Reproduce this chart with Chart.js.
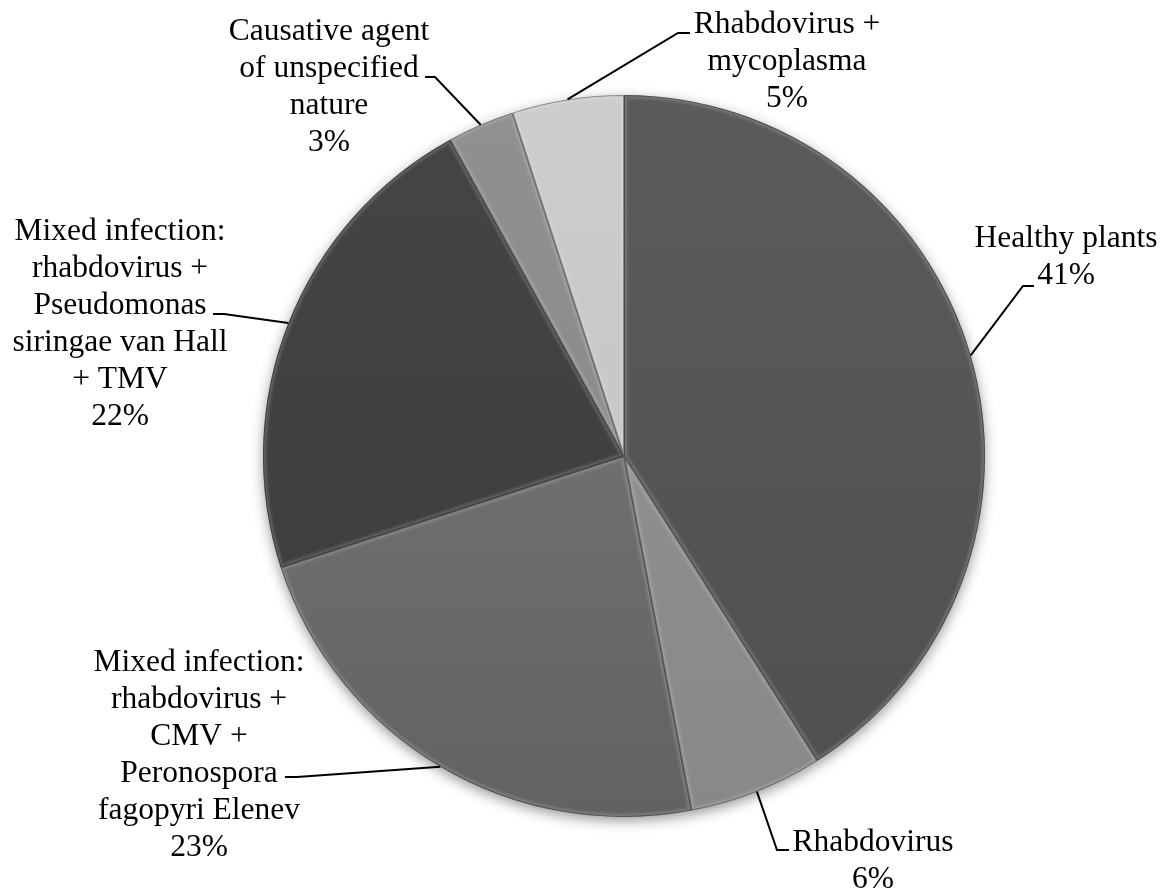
<!DOCTYPE html>
<html>
<head>
<meta charset="utf-8">
<script src="https://cdn.jsdelivr.net/npm/chart.js@4/dist/chart.umd.min.js"></script>
<style>
  html, body { margin: 0; padding: 0; background: #ffffff; }
  #wrap { position: relative; width: 1169px; height: 892px; }
</style>
</head>
<body>
<div id="wrap"><canvas id="c"></canvas></div>
<script>
// ---- data ----
const categories = [
  ["Healthy plants"],
  ["Rhabdovirus"],
  ["Mixed infection:", "rhabdovirus +", "CMV +", "Peronospora", "fagopyri Elenev"],
  ["Mixed infection:", "rhabdovirus +", "Pseudomonas", "siringae van Hall", "+ TMV"],
  ["Causative agent", "of unspecified", "nature"],
  ["Rhabdovirus +", "mycoplasma"]
];
const values = [41, 6, 23, 22, 3, 5];

// ---- styles / layout (not data) ----
const sliceColors = [
  ["#5b5b5b", "#4f4f4f"],
  ["#959595", "#888888"],
  ["#7c7c7c", "#626262"],
  ["#454545", "#3c3c3c"],
  ["#909090", "#888888"],
  ["#cdcdcd", "#c0c0c0"]
];
// label block: center x, first-line center y; leader: elbow point and end point
const labelLayout = [
  { cx: 1066, y: 239, elbow: [1023, 286], end: [1034, 286] },
  { cx: 873,  y: 843, elbow: [777, 850],  end: [789, 850] },
  { cx: 199,  y: 663, elbow: [297, 777],  end: [285, 777] },
  { cx: 120,  y: 232, elbow: [224, 314],  end: [213, 314] },
  { cx: 329,  y: 32,  elbow: [435, 77],   end: [425, 77] },
  { cx: 787,  y: 25,  elbow: [678, 33],   end: [690, 33] }
];
const lineH = 37;
const fontSpec = "31.5px 'Liberation Serif', 'Times New Roman', serif";

function bg(ctx) {
  const chart = ctx.chart;
  const area = chart.chartArea;
  const c = sliceColors[ctx.dataIndex];
  if (!area) return c[0];
  const g = chart.ctx.createLinearGradient(0, area.top, 0, area.bottom);
  g.addColorStop(0, c[0]);
  g.addColorStop(1, c[1]);
  return g;
}

const shadowPlugin = {
  id: 'pieShadow',
  beforeDatasetsDraw(chart) {
    const arc = chart.getDatasetMeta(0).data[0];
    if (!arc) return;
    const ctx = chart.ctx;
    ctx.save();
    ctx.shadowColor = 'rgba(0,0,0,0.45)';
    ctx.shadowBlur = 14;
    ctx.shadowOffsetX = 0;
    ctx.shadowOffsetY = 4;
    ctx.fillStyle = '#555555';
    ctx.beginPath();
    ctx.arc(arc.x, arc.y, arc.outerRadius - 1, 0, Math.PI * 2);
    ctx.fill();
    ctx.restore();
  }
};

const bevelPlugin = {
  id: 'bevel',
  afterDatasetsDraw(chart) {
    const ctx = chart.ctx;
    const arcs = chart.getDatasetMeta(0).data;
    arcs.forEach((a) => {
      const { x, y, startAngle, endAngle, outerRadius } = a;
      const path = () => {
        ctx.beginPath();
        ctx.moveTo(x, y);
        ctx.arc(x, y, outerRadius, startAngle, endAngle);
        ctx.closePath();
      };
      ctx.save();
      path();
      ctx.clip();
      // inner light band
      path();
      ctx.lineJoin = 'miter';
      ctx.lineWidth = 9;
      ctx.strokeStyle = 'rgba(255,255,255,0.07)';
      ctx.stroke();
      path();
      ctx.lineWidth = 5;
      ctx.strokeStyle = 'rgba(255,255,255,0.10)';
      ctx.stroke();
      // dark edge
      path();
      ctx.lineWidth = 2;
      ctx.strokeStyle = 'rgba(0,0,0,0.35)';
      ctx.stroke();
      ctx.restore();
    });
  }
};

const labelPlugin = {
  id: 'outLabels',
  afterDraw(chart) {
    const ctx = chart.ctx;
    const arcs = chart.getDatasetMeta(0).data;
    const total = values.reduce((s, v) => s + v, 0);
    ctx.save();
    ctx.font = fontSpec;
    ctx.fillStyle = '#000000';
    ctx.textAlign = 'center';
    ctx.textBaseline = 'middle';
    arcs.forEach((a, i) => {
      const L = labelLayout[i];
      const lines = categories[i].concat([Math.round(values[i] / total * 100) + '%']);
      lines.forEach((t, k) => ctx.fillText(t, L.cx, L.y + k * lineH));
      // leader line from arc mid-angle on outer edge
      const mid = (a.startAngle + a.endAngle) / 2;
      const px = a.x + Math.cos(mid) * a.outerRadius;
      const py = a.y + Math.sin(mid) * a.outerRadius;
      ctx.beginPath();
      ctx.moveTo(px, py);
      ctx.lineTo(L.elbow[0], L.elbow[1]);
      ctx.lineTo(L.end[0], L.end[1]);
      ctx.lineWidth = 2;
      ctx.strokeStyle = '#000000';
      ctx.stroke();
    });
    ctx.restore();
  }
};

new Chart(document.getElementById('c'), {
  type: 'pie',
  data: {
    labels: categories,
    datasets: [{
      data: values,
      backgroundColor: bg,
      borderWidth: 0,
      hoverOffset: 0
    }]
  },
  options: {
    responsive: true,
    maintainAspectRatio: false,
    animation: false,
    layout: { padding: { left: 263, right: 184, top: 95, bottom: 75 } },
    plugins: {
      legend: { display: false },
      tooltip: { enabled: false },
      title: { display: false }
    }
  },
  plugins: [shadowPlugin, bevelPlugin, labelPlugin]
});
</script>
</body>
</html>
